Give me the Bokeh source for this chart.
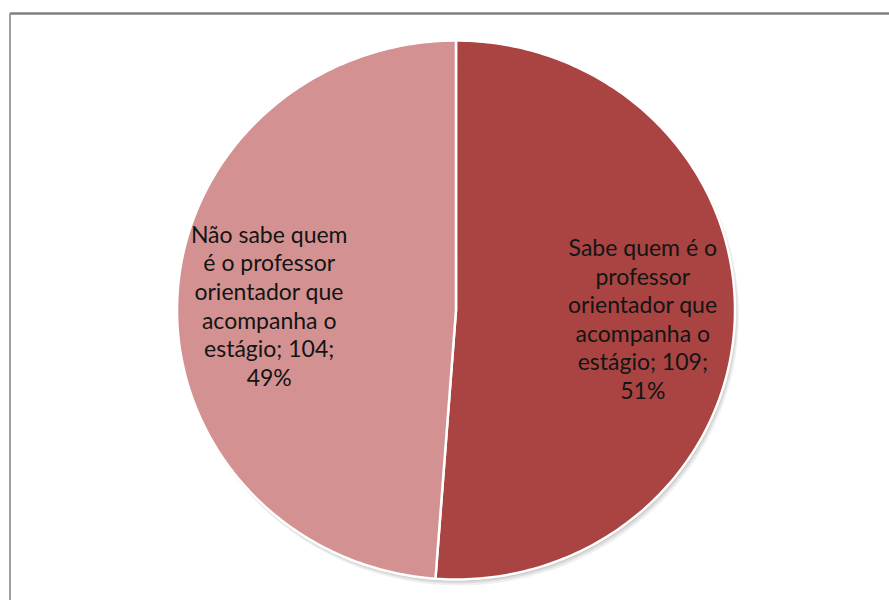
import numpy as np
from bokeh.plotting import figure
from bokeh.models import Range1d, ColumnDataSource
from bokeh.core.properties import value
from bokeh.embed import file_html
from bokeh.resources import INLINE

# ---- data ----
categories = ["Sabe quem é o professor orientador que acompanha o estágio",
              "Não sabe quem é o professor orientador que acompanha o estágio"]
counts = [109, 104]
colors = ["#A94442", "#D39291"]
label_lines = [
    ["Sabe quem é o", "professor", "orientador que", "acompanha o", "estágio; {n};", "{p}%"],
    ["Não sabe quem", "é o professor", "orientador que", "acompanha o", "estágio; {n};", "{p}%"],
]

W, H = 889, 600
cx, cy = 455.5, 309.5
rx, ry = 279.0, 269.5

p = figure(width=W, height=H, output_backend="svg", toolbar_location=None,
           x_range=Range1d(0, W), y_range=Range1d(H, 0),
           min_border=0, min_border_left=0, min_border_right=0,
           min_border_top=0, min_border_bottom=0)
p.axis.visible = False
p.grid.visible = False
p.outline_line_color = None
p.background_fill_color = "white"
p.border_fill_color = "white"

# frame of the chart area
p.segment(x0=[9.5, 9.5], y0=[13, 13], x1=[W + 5, 9.5], y1=[13, H + 5],
          line_color="#808080", line_width=[2.5, 1.5])

# soft shadow
for i, a in enumerate([0.06, 0.08, 0.10]):
    off = 5 - i * 1.5
    p.ellipse(x=[cx + off * 0.6], y=[cy + off], width=[2 * rx + 2 - i],
              height=[2 * ry + 2 - i], fill_color="#000000", fill_alpha=a, line_color=None)

total = float(sum(counts))
fracs = np.array(counts) / total
starts = np.concatenate([[0.0], np.cumsum(fracs)[:-1]]) * 2 * np.pi
ends = np.cumsum(fracs) * 2 * np.pi

xs, ys, lx, ly, texts = [], [], [], [], []
for i in range(len(counts)):
    th = np.linspace(starts[i], ends[i], 200)
    px = np.concatenate([[cx], cx + rx * np.sin(th), [cx]])
    py = np.concatenate([[cy], cy - ry * np.cos(th), [cy]])
    xs.append(list(px))
    ys.append(list(py))
    mid = (starts[i] + ends[i]) / 2
    lx.append(cx + 0.67 * rx * np.sin(mid))
    ly.append(cy - 0.67 * ry * np.cos(mid) + 2)
    pct = int(round(fracs[i] * 100))
    texts.append("\n".join(l.format(n=counts[i], p=pct) for l in label_lines[i]))

src = ColumnDataSource(dict(xs=xs, ys=ys, color=colors))
p.patches(xs="xs", ys="ys", fill_color="color", line_color="white", line_width=2.5,
          line_join="round", source=src)

p.text(x=lx, y=ly, text=texts, text_align="center", text_baseline="middle",
       text_font=value("Lato"), text_font_size="23px", text_line_height=1.02,
       text_color="#141414")

open("out.html", "w").write(file_html(p, INLINE))
